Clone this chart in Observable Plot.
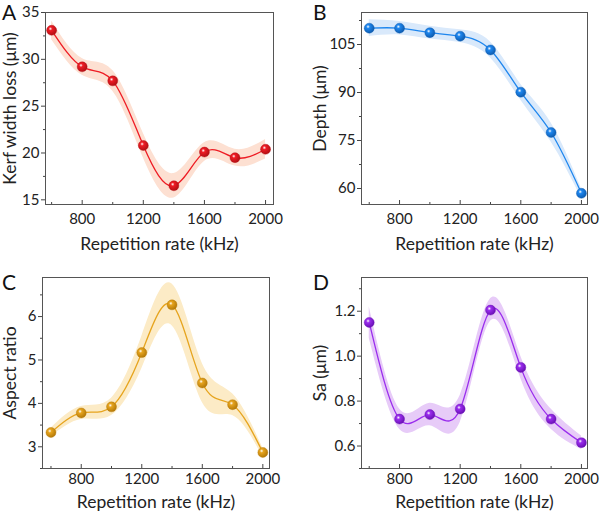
<!DOCTYPE html>
<html><head><meta charset="utf-8">
<script src="https://cdn.jsdelivr.net/npm/d3@7"></script>
<script src="https://cdn.jsdelivr.net/npm/@observablehq/plot@0.6"></script>
<style>
body{margin:0;background:#fff;}
#wrap{position:relative;width:600px;height:513px;overflow:hidden;}
.panel{position:absolute;}
#letters{position:absolute;left:0;top:0;pointer-events:none;}
</style></head>
<body><div id="wrap"></div>
<script>
const rate = [600, 800, 1000, 1200, 1400, 1600, 1800, 2000];
const xTicks = [800, 1200, 1600, 2000];
const xMinor = [600, 1000, 1400, 1800];

const kerf = [33.1, 29.2, 27.7, 20.8, 16.5, 20.1, 19.5, 20.4];
const kerfErr = [1.0, 0.9, 1.1, 1.3, 1.3, 1.0, 0.9, 1.05];
const depth = [110.1, 110.1, 108.7, 107.6, 103.3, 90.1, 77.5, 58.5];
const depthErr = [2.6, 2.1, 2.0, 2.0, 2.5, 2.5, 3.0, 1.5];
const aspect = [3.33, 3.78, 3.92, 5.17, 6.27, 4.47, 3.97, 2.87];
const aspectErr = [0.1, 0.15, 0.2, 0.37, 0.48, 0.45, 0.25, 0.1];
const sa = [1.15, 0.72, 0.74, 0.765, 1.205, 0.95, 0.72, 0.615];
const saErr = [0.07, 0.045, 0.05, 0.06, 0.05, 0.05, 0.045, 0.03];

const yTicksA = [15, 20, 25, 30, 35], yMinorA = [17.5, 22.5, 27.5, 32.5];
const yTicksB = [60, 75, 90, 105], yMinorB = [67.5, 82.5, 97.5, 112.5];
const yTicksC = [3, 4, 5, 6], yMinorC = [2.5, 3.5, 4.5, 5.5, 6.5];
const yTicksD = [0.6, 0.8, 1.0, 1.2], yMinorD = [0.5, 0.7, 0.9, 1.1, 1.3];

const xLabel = "Repetition rate (kHz)";
const panelLetters = ["A", "B", "C", "D"];
const yLabels = ["Kerf width loss (μm)", "Depth (μm)", "Aspect ratio", "Sa (μm)"];

const panels = [
  {id:"A", left:0, top:0, h:256, ml:45, mr:27, mt:12, mb:52, xdom:[560,2052], ydom:[14.5,35], y:kerf, err:kerfErr,
   yt:yTicksA, ym:yMinorA, fmt:d3.format("d"), ylab:yLabels[0], ylo:42, xlo:45, tp:13,
   color:"#ee1c24", dark:"#b30f14", band:"#fde0d2"},
  {id:"B", left:300, top:0, h:256, ml:61, mr:13, mt:12, mb:52, xdom:[549,2040], ydom:[55,115], y:depth, err:depthErr,
   yt:yTicksB, ym:yMinorB, fmt:d3.format("d"), ylab:yLabels[1], ylo:48, xlo:45, tp:13,
   color:"#1e86ee", dark:"#0d5cb0", band:"#d9e9fb"},
  {id:"C", left:0, top:256, h:257, ml:42, mr:31, mt:21, mb:45, xdom:[544,2044], ydom:[2.5,6.9], y:aspect, err:aspectErr,
   yt:yTicksC, ym:yMinorC, fmt:d3.format("d"), ylab:yLabels[2], ylo:39, xlo:39, tp:9,
   color:"#e6a41e", dark:"#b57a08", band:"#fcebc6"},
  {id:"D", left:300, top:256, h:257, ml:61, mr:13, mt:21, mb:45, xdom:[549,2040], ydom:[0.5,1.35], y:sa, err:saErr,
   yt:yTicksD, ym:yMinorD, fmt:d3.format(".1f"), ylab:yLabels[3], ylo:48, xlo:39, tp:9,
   color:"#9a2ded", dark:"#6a10b5", band:"#e7cbf8"}
];

const wrap = document.getElementById("wrap");
const font = "Lato, 'Open Sans', sans-serif";

for (const c of panels) {
  const data = rate.map((x, i) => ({x, y: c.y[i], lo: c.y[i] - c.err[i], hi: c.y[i] + c.err[i]}));
  const gid = "grad" + c.id;
  const svg = Plot.plot({
    width: 300, height: c.h,
    marginLeft: c.ml, marginRight: c.mr, marginTop: c.mt, marginBottom: c.mb,
    style: {fontFamily: font, fontSize: "15px", color: "#222", background: "transparent", overflow: "visible"},
    x: {domain: c.xdom},
    y: {domain: c.ydom},
    marks: [
      Plot.areaY(data, {x: "x", y1: "lo", y2: "hi", curve: "natural", fill: c.band}),
      Plot.line(data, {x: "x", y: "y", curve: "natural", stroke: c.color, strokeWidth: 1.3}),
      Plot.dot(data, {x: "x", y: "y", r: 5, fill: `url(#${gid})`, stroke: c.dark, strokeWidth: 0.4}),
      Plot.frame({stroke: "#555", strokeWidth: 1}),
      Plot.axisX({ticks: xTicks, tickSize: -4, tickPadding: c.tp, label: null, fontSize: 15, stroke: "#444", tickFormat: d3.format("d")}),
      Plot.axisX({ticks: xMinor, tickSize: -2, label: null, tickFormat: () => "", stroke: "#444"}),
      Plot.axisX({ticks: [], tickSize: 0, tickFormat: () => "", label: xLabel, labelAnchor: "center", labelArrow: "none", labelOffset: c.xlo, fontSize: 17.5}),
      Plot.axisY({ticks: c.yt, tickSize: 4, tickPadding: 2, label: null, fontSize: 15, stroke: "#444", tickFormat: c.fmt}),
      Plot.axisY({ticks: c.ym, tickSize: 2, label: null, tickFormat: () => "", stroke: "#444"}),
      Plot.axisY({ticks: [], tickSize: 0, tickFormat: () => "", label: c.ylab, labelAnchor: "center", labelArrow: "none", labelOffset: c.ylo, fontSize: 17.5})
    ]
  });
  const defs = d3.select(svg).insert("defs", ":first-child");
  const g = defs.append("radialGradient").attr("id", gid).attr("cx", "38%").attr("cy", "35%").attr("r", "65%");
  g.append("stop").attr("offset", "0").attr("stop-color", "#ffffff");
  g.append("stop").attr("offset", "0.28").attr("stop-color", c.color);
  g.append("stop").attr("offset", "1").attr("stop-color", c.dark);
  const div = document.createElement("div");
  div.className = "panel";
  div.style.left = c.left + "px";
  div.style.top = c.top + "px";
  div.appendChild(svg);
  wrap.appendChild(div);
}

// panel letters
const ls = d3.create("svg").attr("id", "letters").attr("width", 600).attr("height", 513);
ls.selectAll("text").data([
  {t: panelLetters[0], x: 2, y: 20}, {t: panelLetters[1], x: 313, y: 20},
  {t: panelLetters[2], x: 2, y: 290}, {t: panelLetters[3], x: 313, y: 290}
]).join("text").attr("x", d => d.x).attr("y", d => d.y).text(d => d.t)
  .attr("font-family", font).attr("font-size", 21).attr("fill", "#111");
wrap.appendChild(ls.node());
</script></body></html>
